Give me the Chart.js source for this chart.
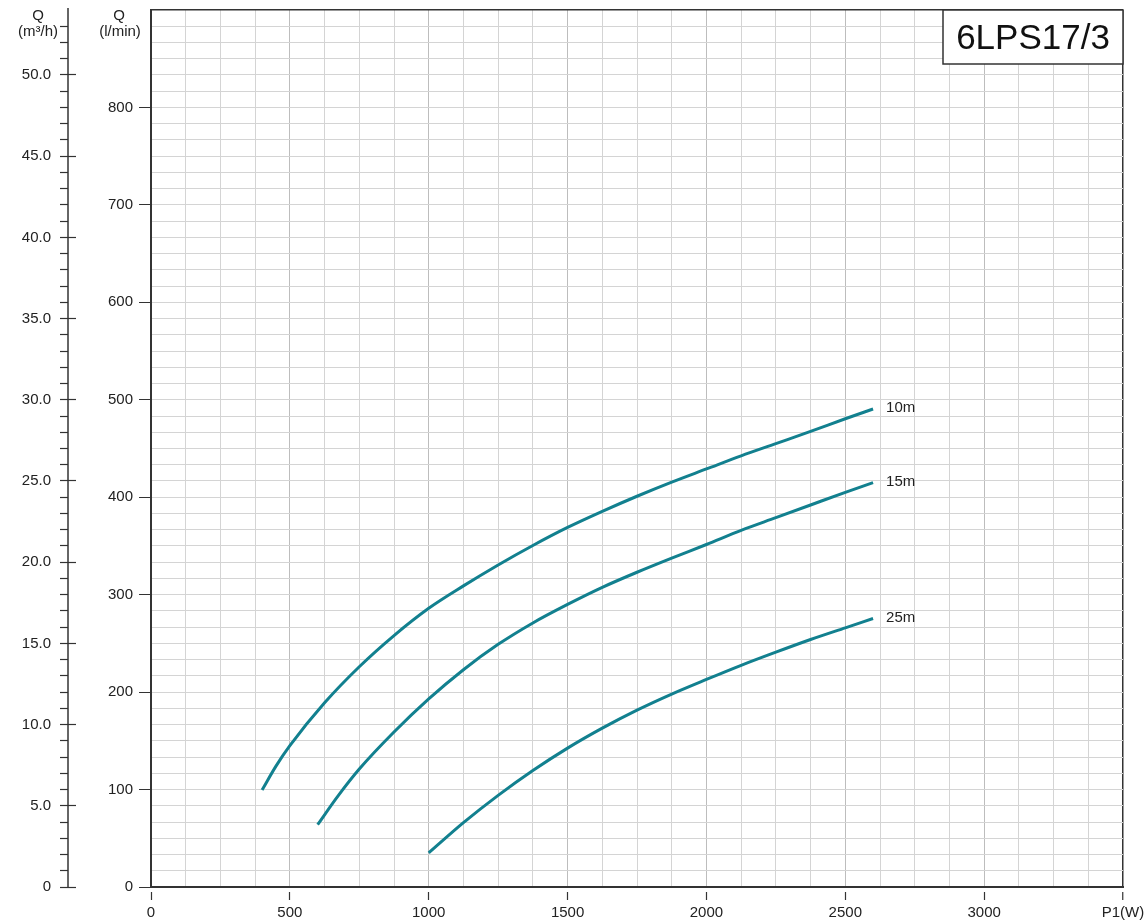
<!DOCTYPE html>
<html>
<head>
<meta charset="utf-8">
<script src="https://cdn.jsdelivr.net/npm/chart.js@4.4.1/dist/chart.umd.min.js"></script>
<style>
  html, body { margin: 0; padding: 0; background: #ffffff; }
  #wrap { width: 1145px; height: 924px; }
</style>
</head>
<body>
<div id="wrap"><canvas id="c" width="1145" height="924"></canvas></div>
<script>
// ---- data ----
const modelName = '6LPS17/3';
const seriesLabels = ['10m', '15m', '25m'];

const power10 = [400, 450, 500, 625, 750, 875, 1000, 1125, 1250, 1375, 1500, 1625, 1750, 1875, 2000, 2125, 2250, 2375, 2500, 2600];
const flow10  = [99.5, 124, 145, 189, 226, 258, 286, 309, 330.5, 350.5, 369, 385.5, 401, 415.5, 429, 442.5, 455, 467.5, 480.5, 490.5];

const power15 = [600, 675, 750, 875, 1000, 1125, 1250, 1375, 1500, 1625, 1750, 1875, 2000, 2125, 2250, 2375, 2500, 2600];
const flow15  = [64, 94, 121, 159, 193, 223, 249, 271, 290, 307.5, 323, 337.5, 351.5, 366, 379, 392, 405, 415];

const power25 = [1000, 1125, 1250, 1375, 1500, 1625, 1750, 1875, 2000, 2125, 2250, 2375, 2500, 2600];
const flow25  = [35, 66, 94, 119.5, 142.5, 163, 181.5, 198, 213, 227.5, 241, 254, 266, 275.5];

// axis ranges / ticks
const xMax = 3500;          // W
const xGridStep = 125;      // W
const xLabelStep = 500;     // W
const xEndLabel = 'P1(W)';
const lminMax = 900;        // l/min
const lminLabels = [0, 100, 200, 300, 400, 500, 600, 700, 800];
const m3hMax = 54;          // m3/h
const m3hLabelStep = 5;

const lineColor = '#12808f';
const gridMinor = '#d4d4d4';
const gridMajor = '#bdbdbd';
const axisDark = '#333333';
const FONT = '"Liberation Sans", Arial, sans-serif';

function pts(px, py) { return px.map((p, i) => ({ x: p, y: py[i] })); }

const overlayPlugin = {
  id: 'overlay',
  afterDraw(chart) {
    const ctx = chart.ctx;
    const ca = chart.chartArea;
    const m3h = chart.scales.m3h;
    const lmin = chart.scales.lmin;
    ctx.save();
    // vertical line of the m3/h axis
    ctx.strokeStyle = axisDark;
    ctx.lineWidth = 1.5;
    ctx.beginPath();
    const lx = m3h.right - 8;
    ctx.moveTo(lx, ca.top - 2);
    ctx.lineTo(lx, m3h.getPixelForValue(0));
    ctx.stroke();

    // axis titles
    ctx.fillStyle = '#222';
    ctx.textAlign = 'center';
    ctx.textBaseline = 'middle';
    ctx.font = '15px ' + FONT;
    ctx.fillText('Q', lx - 30, 16);
    ctx.fillText('(m³/h)', lx - 30, 32);
    ctx.fillText('Q', lmin.right - 32, 16);
    ctx.fillText('(l/min)', lmin.right - 31, 32);

    // series labels at the curve ends
    ctx.textAlign = 'left';
    ctx.font = '15px ' + FONT;
    chart.data.datasets.forEach((ds, i) => {
      const meta = chart.getDatasetMeta(i);
      const last = meta.data[meta.data.length - 1];
      ctx.fillText(ds.label, last.x + 13, last.y - 1);
    });

    // model box
    const bw = 180, bh = 54;
    const bx = ca.right - bw, by = ca.top;
    ctx.fillStyle = '#ffffff';
    ctx.fillRect(bx, by, bw, bh);
    ctx.strokeStyle = axisDark;
    ctx.lineWidth = 1.5;
    ctx.strokeRect(bx, by, bw, bh);
    ctx.fillStyle = '#111';
    ctx.textAlign = 'center';
    ctx.font = '35px ' + FONT;
    ctx.fillText(modelName, bx + bw / 2, by + bh / 2 + 2);
    ctx.restore();
  }
};

const tickFont = { family: FONT, size: 15 };

new Chart(document.getElementById('c'), {
  type: 'scatter',
  data: {
    datasets: [
      { label: seriesLabels[0], data: pts(power10, flow10) },
      { label: seriesLabels[1], data: pts(power15, flow15) },
      { label: seriesLabels[2], data: pts(power25, flow25) }
    ].map(d => Object.assign(d, {
      showLine: true, borderColor: lineColor, borderWidth: 3, pointRadius: 0,
      cubicInterpolationMode: 'monotone', yAxisID: 'lmin', xAxisID: 'x', fill: false
    }))
  },
  options: {
    responsive: false,
    animation: false,
    layout: { padding: { top: 10, right: 22, left: 0, bottom: 0 } },
    plugins: { legend: { display: false }, tooltip: { enabled: false }, title: { display: false } },
    scales: {
      x: {
        type: 'linear', position: 'bottom', min: 0, max: xMax,
        afterBuildTicks(scale) {
          const t = [];
          for (let v = 0; v <= xMax; v += xGridStep) t.push({ value: v });
          scale.ticks = t;
        },
        afterFit(scale) { scale.height = 37; scale.paddingLeft = 0; scale.paddingRight = 0; },
        border: { display: true, color: axisDark, width: 2 },
        grid: {
          drawTicks: true,
          tickLength: 13,
          tickBorderDash: [0, 4, 9, 0],
          tickWidth: 1.2,
          tickColor: ctx => (ctx.tick && (ctx.tick.value % xLabelStep === 0 || ctx.tick.value === xMax)) ? axisDark : 'rgba(0,0,0,0)',
          color: ctx => {
            const v = ctx.tick ? ctx.tick.value : -1;
            if (v === xMax) return axisDark;
            if (v === 0) return 'rgba(0,0,0,0)';
            return v % xLabelStep === 0 ? gridMajor : gridMinor;
          },
          lineWidth: ctx => (ctx.tick && ctx.tick.value === xMax) ? 1.5 : 1
        },
        ticks: {
          autoSkip: false, maxRotation: 0, minRotation: 0, padding: 4,
          color: '#222', font: tickFont,
          callback: v => v === xMax ? xEndLabel : (v % xLabelStep === 0 ? String(v) : '')
        }
      },
      lmin: {
        type: 'linear', position: 'left', weight: 1, min: 0, max: lminMax,
        afterBuildTicks(scale) { scale.ticks = lminLabels.map(v => ({ value: v })); },
        afterFit(scale) { scale.width = 75; scale.paddingTop = 0; scale.paddingBottom = 0; },
        border: { display: true, color: axisDark, width: 2 },
        grid: {
          drawOnChartArea: false, drawTicks: true, tickLength: 15,
          tickBorderDash: [0, 3, 12, 0], tickWidth: 1.2, tickColor: axisDark
        },
        ticks: { padding: 3, color: '#222', font: tickFont, callback: v => String(v) }
      },
      m3h: {
        type: 'linear', position: 'left', weight: 2, min: 0, max: m3hMax,
        afterBuildTicks(scale) {
          const t = [];
          for (let v = 0; v <= m3hMax; v += 1) t.push({ value: v });
          scale.ticks = t;
        },
        afterFit(scale) { scale.width = 76; scale.paddingTop = 0; scale.paddingBottom = 0; },
        border: { display: false },
        grid: {
          drawOnChartArea: true, drawTicks: true, tickLength: 16, tickWidth: 1.2,
          tickBorderDash: ctx => (ctx.tick && ctx.tick.value % m3hLabelStep === 0) ? [] : [8, 100],
          tickColor: ctx => (ctx.tick && ctx.tick.value === m3hMax) ? 'rgba(0,0,0,0)' : axisDark,
          color: ctx => {
            const v = ctx.tick ? ctx.tick.value : -1;
            if (v === m3hMax) return axisDark;
            if (v === 0) return 'rgba(0,0,0,0)';
            return gridMinor;
          },
          lineWidth: ctx => (ctx.tick && ctx.tick.value === m3hMax) ? 1.5 : 1
        },
        ticks: {
          padding: 9, color: '#222', font: tickFont, autoSkip: false,
          callback: v => (v === m3hMax) ? '' : (v % m3hLabelStep === 0 ? (v === 0 ? '0' : v.toFixed(1)) : '')
        }
      }
    }
  },
  plugins: [overlayPlugin]
});
</script>
</body>
</html>
